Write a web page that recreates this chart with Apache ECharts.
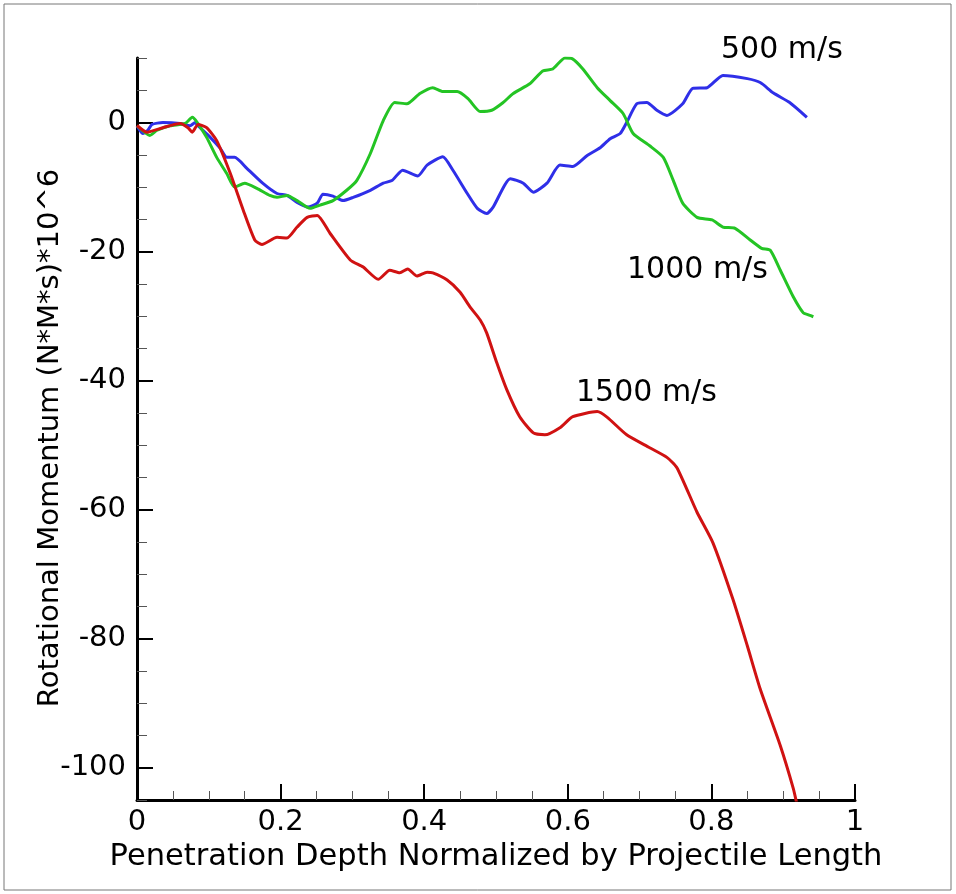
<!DOCTYPE html>
<html>
<head>
<meta charset="utf-8">
<script src="https://cdn.jsdelivr.net/npm/echarts@6/dist/echarts.min.js"></script>
<style>
  html, body { margin: 0; padding: 0; background: #fff; }
  #chart { width: 956px; height: 894px; }
</style>
</head>
<body>
<div id="chart"></div>
<script>
// depth (normalized) , rotational momentum (N*M*s)*10^6
const v500 = [
  [0, -0.5], [0.008, -1.7], [0.015, -1.2], [0.021, -0.3], [0.036, 0.0], [0.060, -0.15],
  [0.074, -0.5], [0.081, 0.0], [0.085, -0.5], [0.102, -2.3], [0.116, -4.0], [0.125, -5.4],
  [0.136, -5.4], [0.153, -7.1], [0.175, -9.4], [0.195, -11.0], [0.209, -11.3], [0.223, -12.4],
  [0.238, -13.1], [0.251, -12.5], [0.259, -11.1], [0.273, -11.4], [0.287, -12.1], [0.301, -11.6],
  [0.325, -10.5], [0.343, -9.4], [0.355, -9.0], [0.370, -7.4], [0.391, -8.3], [0.404, -6.6],
  [0.426, -5.3], [0.440, -7.4], [0.460, -11.0], [0.474, -13.3], [0.487, -14.1], [0.496, -13.1],
  [0.520, -8.7], [0.538, -9.4], [0.552, -10.8], [0.571, -9.4], [0.589, -6.6], [0.607, -6.8],
  [0.627, -5.1], [0.645, -3.9], [0.659, -2.5], [0.673, -1.7], [0.682, 0.0], [0.696, 2.9],
  [0.710, 3.1], [0.724, 1.9], [0.738, 1.1], [0.760, 2.9], [0.774, 5.3], [0.794, 5.4],
  [0.816, 7.3], [0.850, 6.8], [0.868, 6.2], [0.886, 4.6], [0.909, 3.1], [0.933, 0.8]
];
const v1000 = [
  [0, -0.5], [0.018, -2.0], [0.028, -1.2], [0.046, -0.5], [0.067, -0.15], [0.077, 0.8],
  [0.084, 0.0], [0.097, -2.3], [0.111, -5.4], [0.125, -7.9], [0.136, -10.0], [0.150, -9.4],
  [0.167, -10.2], [0.185, -11.3], [0.195, -11.6], [0.209, -11.3], [0.223, -12.1], [0.241, -13.3],
  [0.255, -12.8], [0.273, -12.1], [0.292, -10.5], [0.306, -9.0], [0.325, -4.8], [0.343, 0.3],
  [0.359, 3.1], [0.376, 2.9], [0.394, 4.5], [0.412, 5.4], [0.426, 4.8], [0.446, 4.8],
  [0.461, 3.7], [0.478, 1.7], [0.494, 1.9], [0.510, 3.1], [0.524, 4.5], [0.547, 6.0],
  [0.565, 8.0], [0.579, 8.3], [0.596, 10.0], [0.606, 9.9], [0.621, 8.3], [0.641, 5.4],
  [0.659, 3.4], [0.677, 1.4], [0.691, -1.7], [0.714, -3.6], [0.733, -5.4], [0.747, -9.0],
  [0.760, -12.5], [0.780, -14.7], [0.801, -15.1], [0.816, -16.2], [0.833, -16.4], [0.854, -18.2],
  [0.870, -19.5], [0.882, -19.8], [0.896, -22.9], [0.914, -27.0], [0.928, -29.5], [0.935, -29.8],
  [0.942, -30.1]
];
const v1500 = [
  [0, -0.46], [0.014, -1.5], [0.036, -0.8], [0.060, -0.15], [0.071, -0.8], [0.077, -1.5],
  [0.085, -0.3], [0.097, -0.8], [0.111, -2.8], [0.130, -7.9], [0.148, -13.6], [0.164, -18.2],
  [0.174, -18.9], [0.195, -17.8], [0.209, -17.9], [0.223, -16.2], [0.237, -14.7], [0.251, -14.4],
  [0.269, -17.2], [0.297, -21.3], [0.315, -22.4], [0.336, -24.3], [0.352, -22.9], [0.366, -23.3],
  [0.377, -22.7], [0.390, -23.8], [0.404, -23.2], [0.412, -23.3], [0.432, -24.4], [0.450, -26.3],
  [0.464, -28.6], [0.478, -30.6], [0.487, -32.6], [0.501, -37.2], [0.515, -41.4], [0.533, -45.6],
  [0.552, -48.1], [0.568, -48.4], [0.589, -47.3], [0.607, -45.6], [0.641, -44.8], [0.655, -45.7],
  [0.682, -48.4], [0.714, -50.4], [0.738, -51.9], [0.752, -53.5], [0.780, -60.4], [0.802, -65.1],
  [0.830, -73.9], [0.850, -81.1], [0.868, -87.8], [0.896, -96.6], [0.914, -103.2], [0.919, -105.6]
];
const seriesNames = ['500 m/s', '1000 m/s', '1500 m/s'];
const yMajorTicks = [-100, -80, -60, -40, -20, 0];

const font = 'DejaVu Sans';
let chart = echarts.init(document.getElementById('chart'));

let option = {
  backgroundColor: '#fff',
  animation: false,
  grid: { left: 137, top: 58, right: 101, bottom: 94 },
  xAxis: [
    {
      type: 'value', min: 0, max: 1, interval: 0.05,
      axisLine: { onZero: false, lineStyle: { color: '#000', width: 3 } },
      axisTick: { inside: true, length: 9, lineStyle: { color: '#555', width: 1 } },
      axisLabel: { show: false },
      splitLine: { show: false }
    },
    {
      type: 'value', min: 0, max: 1, interval: 0.2, position: 'bottom',
      name: 'Penetration Depth Normalized by Projectile Length',
      nameLocation: 'middle', nameGap: 39,
      nameTextStyle: { fontFamily: font, fontSize: 30.5, color: '#000' },
      axisLine: { show: false, onZero: false },
      axisTick: { inside: true, length: 16, lineStyle: { color: '#000', width: 2 } },
      axisLabel: {
        fontFamily: font, fontSize: 29, color: '#000', margin: 8,
        formatter: v => String(Number(v.toFixed(1)))
      },
      splitLine: { show: false }
    }
  ],
  yAxis: [
    {
      type: 'value', min: -105, max: 10, interval: 5,
      axisLine: { onZero: false, lineStyle: { color: '#000', width: 3 } },
      axisTick: { inside: true, length: 10, lineStyle: { color: '#555', width: 1 } },
      axisLabel: { show: false },
      splitLine: { show: false }
    },
    {
      type: 'value', min: -105, max: 10, position: 'left',
      name: 'Rotational Momentum (N*M*s)*10^6',
      nameLocation: 'middle', nameGap: 72, nameMoveOverlap: false,
      nameTextStyle: { fontFamily: font, fontSize: 29, color: '#000', padding: [0, 18, 0, 0] },
      axisLine: { show: false, onZero: false },
      axisTick: { inside: true, length: 16, customValues: yMajorTicks, lineStyle: { color: '#000', width: 2 } },
      axisLabel: { fontFamily: font, fontSize: 29, color: '#000', margin: 11, customValues: yMajorTicks },
      splitLine: { show: false }
    }
  ],
  series: [
    { name: seriesNames[0], type: 'line', data: v500, showSymbol: false, smooth: 0.2,
      lineStyle: { color: '#2f2fe8', width: 3 }, z: 3 },
    { name: seriesNames[1], type: 'line', data: v1000, showSymbol: false, smooth: 0.2,
      lineStyle: { color: '#24c424', width: 3 }, z: 3 },
    { name: seriesNames[2], type: 'line', data: v1500, showSymbol: false, smooth: 0.2,
      lineStyle: { color: '#d01212', width: 3 }, z: 3 }
  ],
  graphic: [
    { type: 'rect', shape: { x: 4, y: 4, width: 947, height: 886 },
      style: { fill: 'none', stroke: '#777', lineWidth: 1 }, silent: true },
    { type: 'text', left: 721, top: 35,
      style: { text: seriesNames[0], font: '30px "DejaVu Sans"', fill: '#000' } },
    { type: 'text', left: 627, top: 255,
      style: { text: seriesNames[1], font: '30px "DejaVu Sans"', fill: '#000' } },
    { type: 'text', left: 576, top: 378,
      style: { text: seriesNames[2], font: '30px "DejaVu Sans"', fill: '#000' } }
  ]
};

chart.setOption(option);
</script>
</body>
</html>
